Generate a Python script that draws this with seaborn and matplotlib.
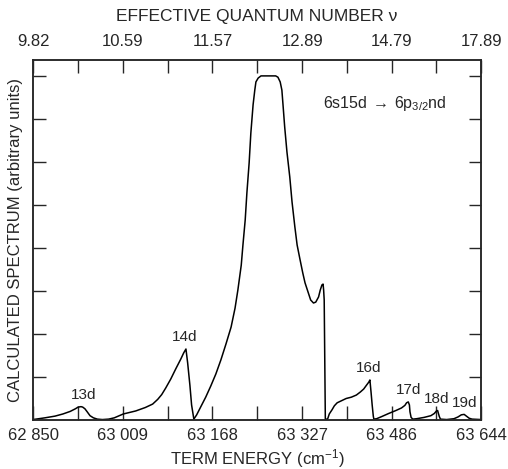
import numpy as np
import seaborn as sns
import matplotlib.pyplot as plt

# term energy (cm-1) and calculated spectrum (arbitrary units)
energy = [
    62850, 62871, 62889, 62903, 62916, 62925, 62930, 62935, 62938, 62942, 62946,    # 13d
    62951, 62957, 62964, 62973, 62984, 62994,
    63010, 63032, 63049, 63062, 63071, 63078, 63085, 63094, 63103, 63112, 63117,    # 14d rise
    63121, 63124, 63128, 63131, 63135,                                              # 14d drop
    63140, 63147, 63156, 63165, 63174, 63183, 63192, 63201, 63208, 63213, 63219,    # 15d rise
    63222, 63226, 63229, 63233, 63236, 63240, 63243, 63245, 63249, 63254,
    63280, 63284, 63288, 63291, 63293, 63296, 63300, 63305, 63309, 63314, 63318,    # 15d fall
    63323, 63328, 63332, 63338, 63342, 63347, 63351, 63356, 63359, 63362, 63364,    # window
    63365, 63366, 63368,
    63372, 63375, 63380, 63384, 63389, 63397, 63405, 63414, 63423, 63430, 63436,    # 16d
    63441, 63445, 63447, 63449, 63451, 63453, 63454,
    63459, 63468, 63480, 63493, 63503, 63509, 63512, 63515, 63517, 63518, 63520,    # 17d
    63523,
    63530, 63543, 63555, 63561, 63565, 63567, 63568, 63570, 63572,                  # 18d
    63583, 63596, 63603, 63609, 63614, 63618, 63623, 63628, 63644,                  # 19d
]
intensity = [
    0.01, 0.05, 0.09, 0.14, 0.20, 0.26, 0.30, 0.31, 0.30, 0.26, 0.19,
    0.10, 0.05, 0.02, 0.01, 0.02, 0.05,
    0.14, 0.21, 0.29, 0.37, 0.48, 0.59, 0.74, 0.95, 1.19, 1.42, 1.56,
    1.65, 1.33, 0.81, 0.35, 0.02,
    0.12, 0.30, 0.53, 0.79, 1.07, 1.40, 1.77, 2.16, 2.60, 3.02, 3.60,
    4.07, 4.65, 5.28, 5.98, 6.67, 7.33, 7.67, 7.86, 7.95, 8.00,
    8.00, 7.97, 7.86, 7.67, 7.33, 6.81, 6.23, 5.65, 5.07, 4.49, 4.07,
    3.74, 3.42, 3.19, 2.95, 2.79, 2.72, 2.74, 2.86, 3.02, 3.14, 3.16,
    3.02, 2.79, 0.02,
    0.02, 0.14, 0.24, 0.33, 0.40, 0.45, 0.50, 0.53, 0.58, 0.65, 0.72,
    0.81, 0.88, 0.93, 0.65, 0.35, 0.09, 0.02,
    0.03, 0.08, 0.15, 0.22, 0.28, 0.34, 0.40, 0.42, 0.35, 0.19, 0.06,
    0.02,
    0.03, 0.06, 0.10, 0.15, 0.21, 0.22, 0.17, 0.08, 0.02,
    0.01, 0.03, 0.07, 0.12, 0.13, 0.09, 0.04, 0.02, 0.01,
]

# resonance labels (n d) and where they sit on the curve
peak_labels = ['13d', '14d', '16d', '17d', '18d', '19d']
peak_energy = [62939, 63118, 63445, 63516, 63566, 63615]
peak_height = [0.31, 1.65, 0.93, 0.42, 0.22, 0.13]

energy_ticks = [62850, 63009, 63168, 63327, 63486, 63644]
nu_labels = ['9.82', '10.59', '11.57', '12.89', '14.79', '17.89']

sns.set_style('ticks')
plt.rcParams['font.family'] = ['Liberation Sans', 'DejaVu Sans']
plt.rcParams['mathtext.default'] = 'regular'

fig = plt.figure(figsize=(5.08, 4.69), dpi=100)
ax = fig.add_axes([0.065, 0.1045, 0.882, 0.7676])

sns.lineplot(x=energy, y=intensity, ax=ax, color='black', linewidth=1.1,
             estimator=None, sort=False)

ax.set_xlim(energy_ticks[0], energy_ticks[-1])
ax.set_ylim(0, 8.37)

minor = [(a + b) / 2 for a, b in zip(energy_ticks[:-1], energy_ticks[1:])]
ax.set_xticks(energy_ticks)
ax.set_xticklabels([f'{v:,}'.replace(',', ' ') for v in energy_ticks])
ax.set_xticks(minor, minor=True)
ax.set_yticks(range(1, 9))
ax.set_yticklabels([])

ax.tick_params(axis='x', which='both', direction='in', length=10, width=1.0,
               labelsize=12, pad=6, top=False)
ax.tick_params(axis='y', direction='in', length=9, width=1.0, right=True)

for s in ax.spines.values():
    s.set_linewidth(1.1)

ax.set_xlabel('TERM ENERGY (cm$^{-1}$)', fontsize=12, labelpad=3)
ax.set_ylabel('CALCULATED SPECTRUM (arbitrary units)', fontsize=12, labelpad=4)

# top axis: effective quantum number
ax2 = ax.twiny()
ax2.set_xlim(ax.get_xlim())
ax2.set_xticks(energy_ticks)
ax2.set_xticklabels(nu_labels)
ax2.set_xticks(minor, minor=True)
ax2.tick_params(axis='x', which='both', direction='in', length=9, width=1.0,
                labelsize=12, pad=8)
ax2.set_xlabel('EFFECTIVE QUANTUM NUMBER ν', fontsize=12.5, labelpad=9)
for s in ax2.spines.values():
    s.set_linewidth(1.1)

for lab, e, h in zip(peak_labels, peak_energy, peak_height):
    ax.annotate(lab, xy=(e, h), xytext=(0, 8.5), textcoords='offset points',
                ha='center', va='center', fontsize=11)

ax.text(0.647, 0.88, r'6s15d$\,\rightarrow\,$6p$_{3/2}$nd', transform=ax.transAxes,
        ha='left', va='center', fontsize=11.5)

fig.savefig('out.png', dpi=100)
